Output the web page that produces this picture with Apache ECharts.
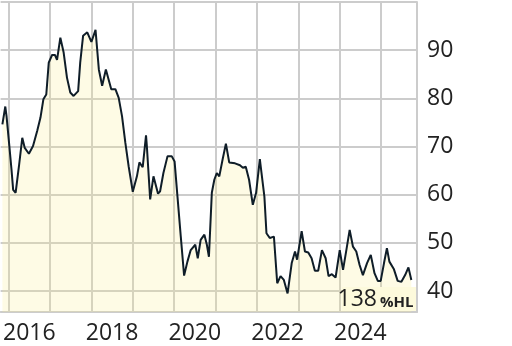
<!DOCTYPE html>
<html><head><meta charset="utf-8">
<script src="https://cdn.jsdelivr.net/npm/echarts@6/dist/echarts.min.js"></script>
<style>html,body{margin:0;padding:0;background:#fff}#c{width:512px;height:346px}</style>
</head><body><div id="c"></div>
<script>
// decimal years
const dates = [2015.85,2015.92,2015.95,2016.01,2016.07,2016.11,2016.17,2016.25,2016.33,2016.39,2016.49,2016.59,2016.69,2016.77,2016.84,2016.91,2016.97,2017.05,2017.12,2017.17,2017.25,2017.33,2017.41,2017.49,2017.57,2017.68,2017.73,2017.80,2017.90,2017.93,2018.00,2018.10,2018.18,2018.26,2018.35,2018.48,2018.58,2018.66,2018.74,2018.82,2018.90,2019.00,2019.10,2019.16,2019.24,2019.32,2019.34,2019.42,2019.50,2019.61,2019.66,2019.74,2019.84,2019.94,2020.01,2020.08,2020.16,2020.24,2020.32,2020.40,2020.51,2020.57,2020.64,2020.73,2020.79,2020.84,2020.91,2020.97,2021.03,2021.09,2021.17,2021.25,2021.33,2021.47,2021.59,2021.66,2021.73,2021.81,2021.90,2021.98,2022.07,2022.11,2022.18,2022.23,2022.31,2022.41,2022.49,2022.57,2022.65,2022.74,2022.84,2022.92,2022.97,2023.08,2023.16,2023.24,2023.32,2023.40,2023.48,2023.57,2023.66,2023.73,2023.81,2023.90,2024.00,2024.08,2024.16,2024.24,2024.32,2024.40,2024.48,2024.56,2024.66,2024.75,2024.84,2024.92,2024.99,2025.07,2025.14,2025.20,2025.31,2025.40,2025.49,2025.58,2025.66,2025.73];
const values = [74.6,78.3,76.3,70.8,65.2,61.0,60.4,65.9,71.8,69.7,68.5,70.1,73.2,76.0,79.8,80.8,87.4,89.0,89.0,88.0,92.6,89.5,84.3,81.2,80.5,81.5,87.4,93.0,93.7,93.3,91.7,94.2,86.0,82.6,86.0,81.9,81.9,80.1,76.3,70.8,65.9,60.6,63.8,66.7,65.7,72.3,70.1,59.0,63.8,60.2,60.7,64.5,68.0,68.0,66.9,59.6,51.3,43.2,46.1,48.5,49.6,46.8,50.6,51.7,49.6,47.1,60.4,63.1,64.5,63.8,67.3,70.6,66.7,66.5,66.1,65.6,65.8,63.1,57.9,60.4,67.4,64.5,59.6,52.0,51.0,51.3,41.6,43.1,42.3,39.5,45.8,48.2,46.5,52.4,48.2,48.0,46.8,44.2,44.2,48.5,46.8,43.1,43.5,42.8,48.5,44.4,48.5,52.7,49.2,48.2,45.4,43.3,45.8,47.5,43.7,42.1,42.1,45.8,48.9,46.1,44.5,42.1,41.9,43.3,44.9,42.3];
const yearLabels = [2016, 2018, 2020, 2022, 2024];
const yTickLabels = [40, 50, 60, 70, 80, 90];
const badgeValue = '138';
const badgeUnit = '%HL';

const xMin = 2015.807, xMax = 2025.867;
const gridColor = '#cccccc';
const textColor = '#222222';
const font = 'Open Sans';

const chart = echarts.init(document.getElementById('c'), null, {renderer: 'canvas'});
chart.setOption({
  animation: false,
  backgroundColor: '#ffffff',
  grid: {left: 0, right: 95, top: 2, bottom: 34},
  xAxis: [{
    type: 'value', min: xMin, max: xMax, minInterval: 1, maxInterval: 1,
    axisLine: {show: true, lineStyle: {color: gridColor, width: 2}},
    axisTick: {show: false}, axisLabel: {show: false},
    splitLine: {show: true, showMinLine: false, showMaxLine: false, lineStyle: {color: gridColor, width: 2}}
  }, {
    type: 'value', min: xMin - 0.5, max: xMax - 0.5, minInterval: 2, maxInterval: 2,
    position: 'bottom',
    axisLine: {show: false}, axisTick: {show: false}, splitLine: {show: false},
    axisLabel: {
      show: true, showMinLabel: false, showMaxLabel: false, margin: 10,
      color: textColor, fontFamily: font, fontSize: 23,
      formatter: v => yearLabels.includes(Math.round(v)) && Math.abs(v - Math.round(v)) < 1e-6 ? String(Math.round(v)) : ''
    }
  }],
  yAxis: {
    type: 'value', position: 'right', min: 35.64, max: 100, minInterval: 10, maxInterval: 10,
    axisLine: {show: true, lineStyle: {color: gridColor, width: 2}},
    axisTick: {show: false},
    splitLine: {show: true, lineStyle: {color: gridColor, width: 2}},
    axisLabel: {
      show: true, margin: 10, color: textColor, fontFamily: font, fontSize: 23,
      padding: [5, 0, 0, 0],
      formatter: v => yTickLabels.includes(Math.round(v)) && Math.abs(v - Math.round(v)) < 1e-6 ? String(Math.round(v)) : ''
    }
  },
  series: [{
    type: 'line', xAxisIndex: 0, yAxisIndex: 0,
    data: dates.map((d, i) => [d, values[i]]),
    showSymbol: false, symbol: 'none',
    lineStyle: {color: '#0f1d28', width: 2},
    areaStyle: {color: 'rgba(250,238,140,0.32)'},
    z: 3
  }],
  graphic: [
    {type: 'rect', shape: {x: 342, y: 287, width: 74, height: 24}, style: {fill: '#fdfadc'}, z: 10},
    {type: 'text', x: 377, y: 311, style: {text: badgeValue, fill: textColor, font: '23px "Open Sans"', textAlign: 'right', textVerticalAlign: 'bottom'}, z: 11},
    {type: 'text', x: 380, y: 310, style: {text: badgeUnit, fill: textColor, font: 'bold 15px "Open Sans"', textAlign: 'left', textVerticalAlign: 'bottom'}, z: 11}
  ]
});
</script>
</body></html>
